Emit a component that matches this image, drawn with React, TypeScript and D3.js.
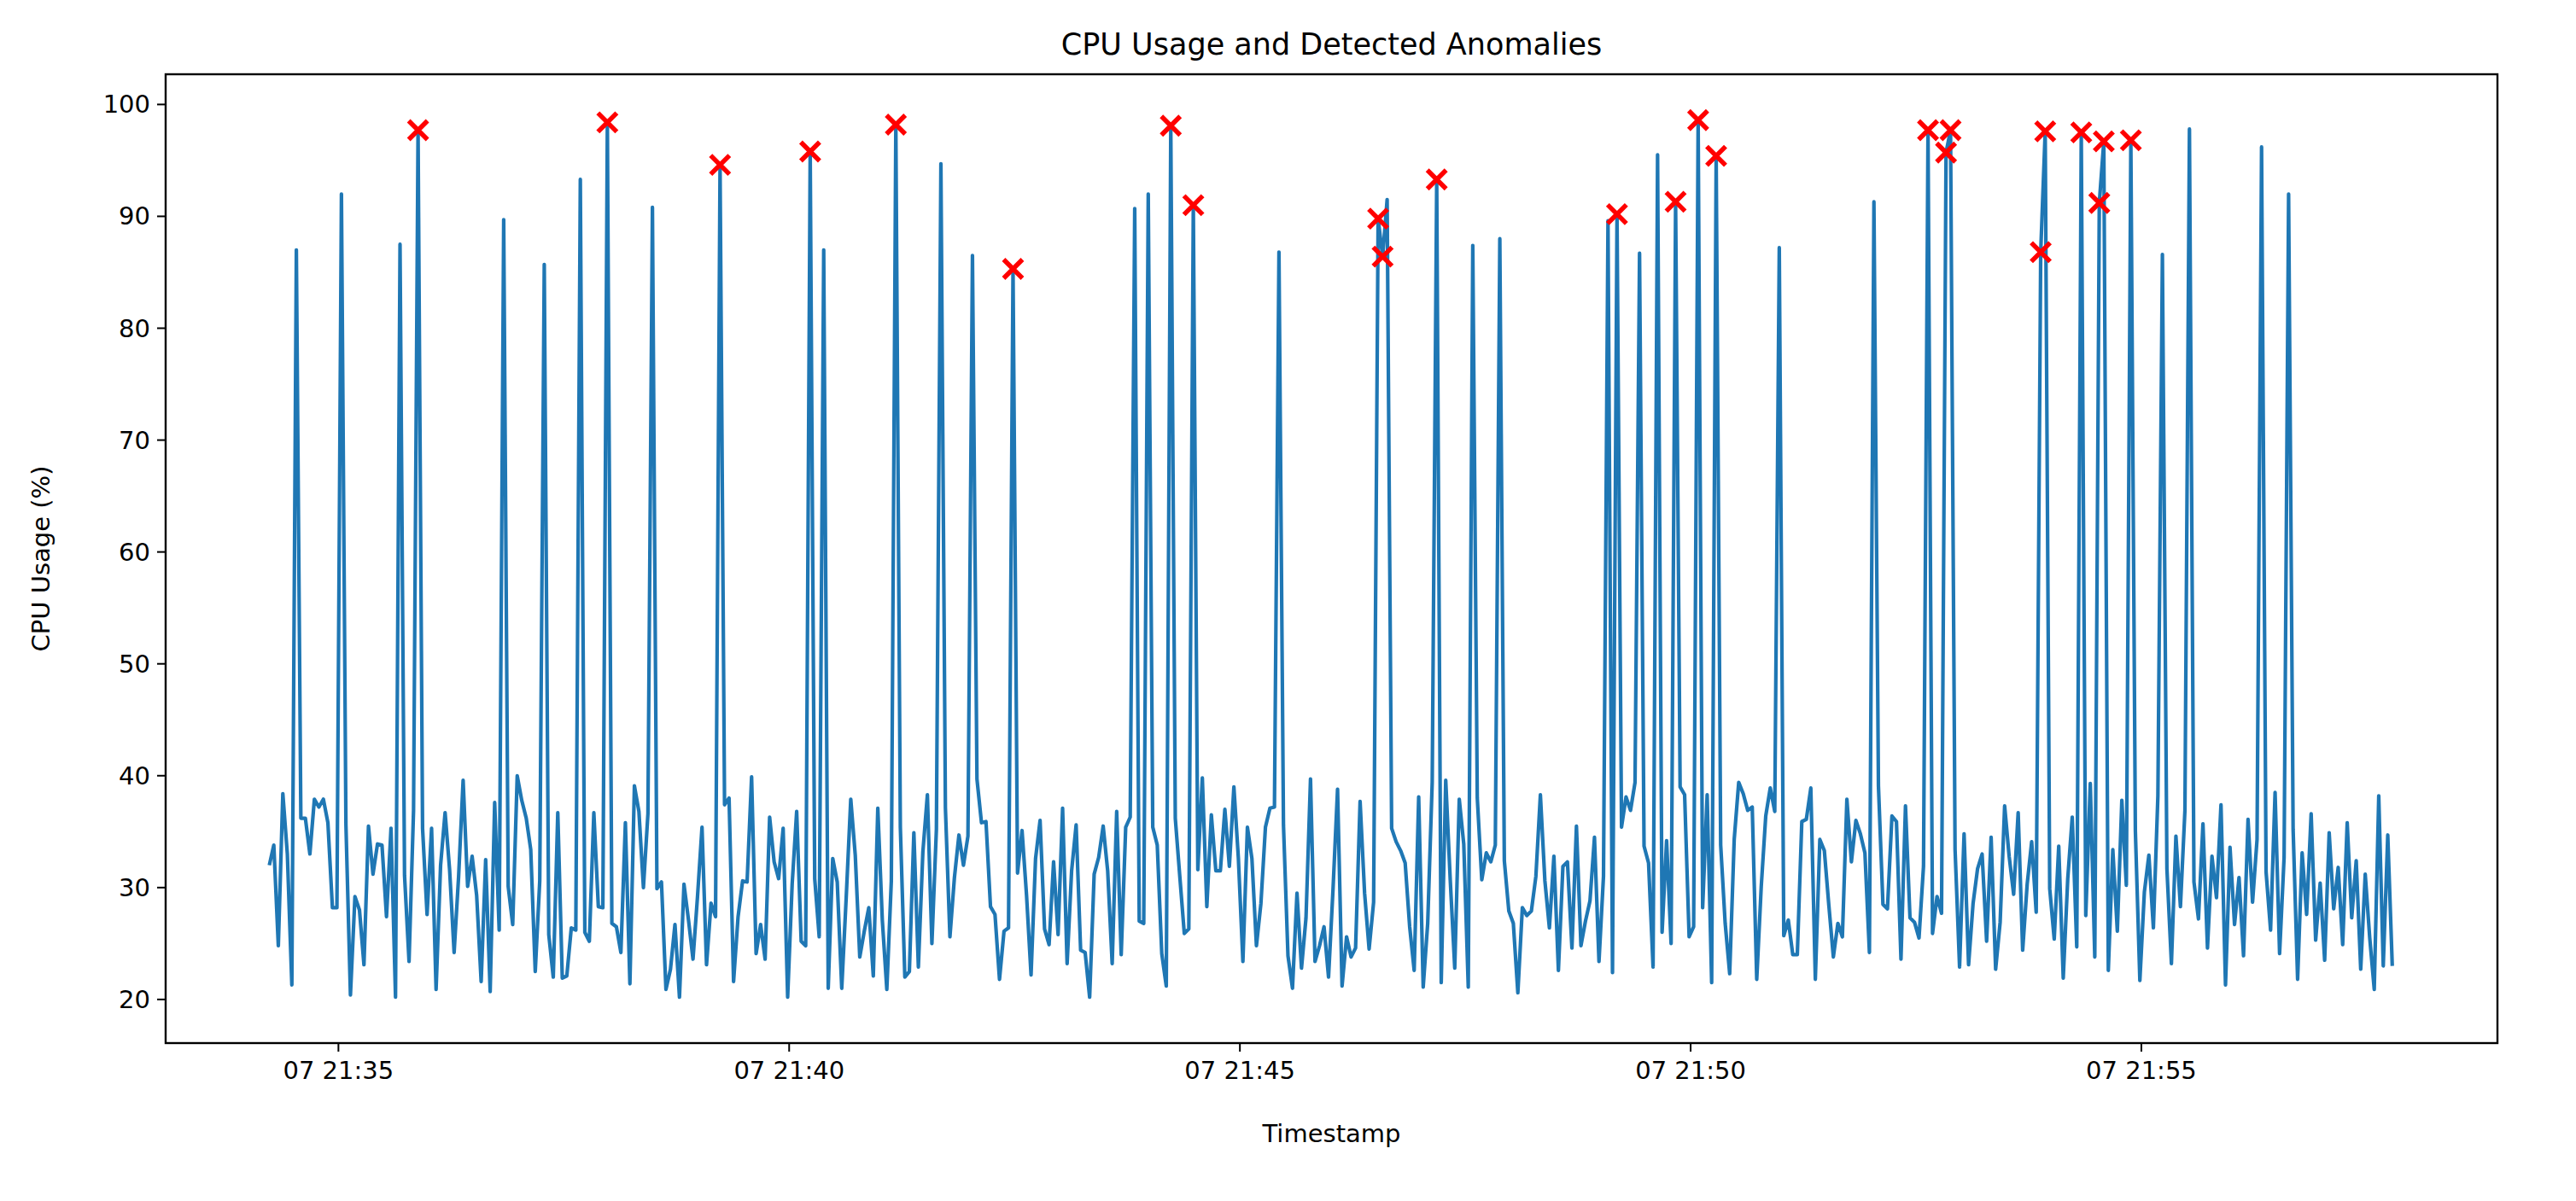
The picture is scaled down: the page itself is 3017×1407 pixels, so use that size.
import * as d3 from "d3";

// baseline CPU readings, one every 3 seconds
const baseline: number[] = [
  32,33.8,24.8,38.4,33,21.3,20,36.2,36.2,33,37.9,37.2,37.9,35.8,28.2,28.2,39.4,35.6,20.4,29.2,
  28,23.1,35.5,31.2,33.9,33.8,27.4,35.3,20.2,21.7,31.1,23.4,36.9,25,35.3,27.6,35.3,20.9,32,36.7,
  31.6,24.2,31,39.6,30.1,32.8,29.3,21.6,32.5,20.7,37.6,26.2,39.9,30.1,26.7,40,37.8,36.2,33.4,22.5,
  30.6,35.6,25.8,22,36.7,21.9,22.1,26.4,26.2,38.8,26,25.2,36.7,28.3,28.2,36.3,26.8,26.5,24.2,35.8,
  21.4,39.1,36.8,30,36.6,30.4,29.9,30.5,20.9,22.7,26.7,20.2,30.3,27.1,23.6,29.2,35.4,23.1,28.6,27.4,
  38.9,37.4,38,21.6,27.4,30.6,30.5,39.9,24.1,26.7,23.6,36.3,32.3,30.8,35.3,20.2,30.3,36.8,25.2,24.8,
  34.1,30.8,25.6,33.8,21,32.6,30.5,21,29.2,37.9,32.9,23.8,26.1,28.2,22.1,37.1,27.1,20.9,30.6,21,
  35.4,22,22.5,34.9,22.9,33.2,38.3,25,35.2,29.3,37.1,25.6,30.9,34.7,32,34.6,31.5,39.7,35.8,35.9,
  28.3,27.6,21.8,26.1,26.4,26.3,31.3,35.1,29.3,22.2,32.6,36,26.3,24.9,32.3,25.8,37.1,23.2,31.5,35.6,
  24.4,24.2,20.2,31.2,32.7,35.5,31.5,23.2,36.8,24,35.4,36.3,35.1,27,26.8,35.5,35.4,33.8,24.1,21.2,
  22.7,36.2,31,25.9,26.3,36.1,31.6,39.8,28.3,36.5,31.5,31.5,37,31.9,39,32.6,23.4,35.4,32.6,24.8,
  28.6,35.4,37.1,37.2,33.8,35.6,23.9,21,29.5,22.8,27.3,39.7,23.4,24.8,26.5,22,29.9,38.8,21.2,25.6,
  23.8,24.6,37.7,29.5,24.5,28.7,24.5,31.5,35.1,35.3,34.1,33.3,32.2,26.5,22.6,38.1,21.1,26.8,39.4,35.3,
  21.5,39.6,30.7,22.8,37.9,33.9,21.1,35.3,38,30.7,33.1,32.3,33.8,23.3,32.4,27.9,26.8,20.6,28.2,27.5,
  27.9,31,38.3,30.6,26.4,32.8,22.6,31.9,32.3,24.6,35.5,24.8,27,28.8,34.5,23.4,31,25.1,22.4,21.1,
  35.4,38.1,36.9,39.4,35.8,33.7,32.2,22.9,31.8,26,34.2,25,32.1,39,38.3,25.6,26.5,32.5,28.2,38.3,
  21.5,22.4,33.8,26.8,22.3,34.3,39.4,38.4,36.9,37.2,21.8,30.1,36.4,38.9,36.8,31.1,25.7,27.1,24,24,
  35.9,36.1,38.9,21.8,34.3,33.3,28.4,23.8,26.8,25.6,37.9,32.3,36,34.8,33.1,24.2,23.9,39.1,28.5,28.1,
  36.4,35.9,23.6,37.3,27.3,26.9,25.5,31.9,32,25.9,29.2,27.7,38.1,20.8,33.4,22.9,34.8,23.1,28.6,31.7,
  33,25.2,34.5,22.7,26.9,37.3,32.8,29.4,36.7,24.4,30.3,34.1,27.8,22.3,38.6,29.9,25.4,33.7,21.9,30.8,
  36.3,24.7,31.2,27.5,39.3,23.8,35.6,28.9,22.6,33.4,26.1,37.8,30.2,24.3,35.1,21.7,29.6,32.9,26.4,38.2,
  25.9,31.7,23.2,34.6,28.3,36.9,22.1,30.5,27.2,35.7,24.6,32.8,29.1,37.4,21.3,33.6,26.7,30.9,23.9,36.1,
  28.7,34.3,22.8,31.4,26.2,38.5,24.1,32.7,29.8,35.2,21.8,33.1,27.6,36.6,25.3,30.4,23.5,34.9,28.1,31.8,
  24.9,35.8,27.3,32.4,22.7,31.2,25.5,20.9,38.2,23,34.7,23,
];

// spikes: sample index and value
const spikeIdx = [6,16,29,33,52,61,69,75,85,100,120,123,139,149,156,165,192,195,200,205,224,246,247,248,259,267,273,297,299,304,308,312,317,321,335,356,368,372,373,393,394,402,406,407,413,420,426,442,448];
const spikeVal = [87,92,87.5,97.7,89.7,85.7,93.3,98.4,90.8,94.6,95.8,87,98.2,94.7,86.5,85.3,90.7,92,98.1,91,86.8,89.8,86.4,91.5,93.3,87.4,88,89.6,90.2,86.7,95.5,91.3,98.6,95.4,87.2,91.3,97.7,95.7,97.7,86.8,97.6,97.5,91.2,96.7,96.8,86.6,97.8,96.2,92];

// indices flagged as anomalies
const anomalyIdx = [33,75,100,120,139,165,200,205,246,247,259,299,312,317,321,368,372,373,393,394,402,406,407,413];

const yTicks = [20,30,40,50,60,70,80,90,100];

const START = new Date(2025, 0, 7, 21, 34, 14);
const STEP_MS = 3000;

const W = 3017, H = 1407;
const M = { left: 194, right: 2925, top: 87, bottom: 1222 };
const FONT = "DejaVu Sans, sans-serif";

export default function App() {
  const values = baseline.slice();
  spikeIdx.forEach((i, k) => { values[i] = spikeVal[k]; });
  const data = values.map((v, i) => ({ t: new Date(START.getTime() + i * STEP_MS), v }));

  const x = d3.scaleTime()
    .domain([new Date(2025, 0, 7, 21, 33, 5), new Date(2025, 0, 7, 21, 58, 57)])
    .range([M.left, M.right]);
  const y = d3.scaleLinear().domain([16.1, 102.7]).range([M.bottom, M.top]);

  const line = d3.line<{ t: Date; v: number }>().x(d => x(d.t)).y(d => y(d.v));
  const xTicks = x.ticks(d3.timeMinute.every(5)!);
  const fmt = d3.timeFormat("%d %H:%M");

  return (
    <svg width={W} height={H} style={{ display: "block", background: "white", margin: -8 }}>
      <path d={line(data) ?? ""} fill="none" stroke="#1f77b4" strokeWidth={4.2} strokeLinejoin="round" />
      {anomalyIdx.map(i => {
        const cx = x(data[i].t), cy = y(data[i].v), s = 11;
        return (
          <path key={i} d={`M${cx - s},${cy - s}L${cx + s},${cy + s}M${cx - s},${cy + s}L${cx + s},${cy - s}`}
            stroke="red" strokeWidth={5.5} />
        );
      })}
      <rect x={M.left} y={M.top} width={M.right - M.left} height={M.bottom - M.top}
        fill="none" stroke="black" strokeWidth={2.4} />
      {yTicks.map(t => (
        <g key={t}>
          <line x1={M.left - 10} x2={M.left} y1={y(t)} y2={y(t)} stroke="black" strokeWidth={2} />
          <text x={M.left - 18} y={y(t)} textAnchor="end" dominantBaseline="central"
            fontSize={29} fontFamily={FONT}>{t}</text>
        </g>
      ))}
      {xTicks.map(t => (
        <g key={+t}>
          <line x1={x(t)} x2={x(t)} y1={M.bottom} y2={M.bottom + 10} stroke="black" strokeWidth={2} />
          <text x={x(t)} y={M.bottom + 42} textAnchor="middle" fontSize={29} fontFamily={FONT}>{fmt(t)}</text>
        </g>
      ))}
      <text x={(M.left + M.right) / 2} y={1338} textAnchor="middle" fontSize={29} fontFamily={FONT}>Timestamp</text>
      <text transform={`translate(58,${(M.top + M.bottom) / 2}) rotate(-90)`} textAnchor="middle"
        fontSize={29} fontFamily={FONT}>CPU Usage (%)</text>
      <text x={(M.left + M.right) / 2} y={64} textAnchor="middle" fontSize={35} fontFamily={FONT}>
        CPU Usage and Detected Anomalies
      </text>
    </svg>
  );
}
